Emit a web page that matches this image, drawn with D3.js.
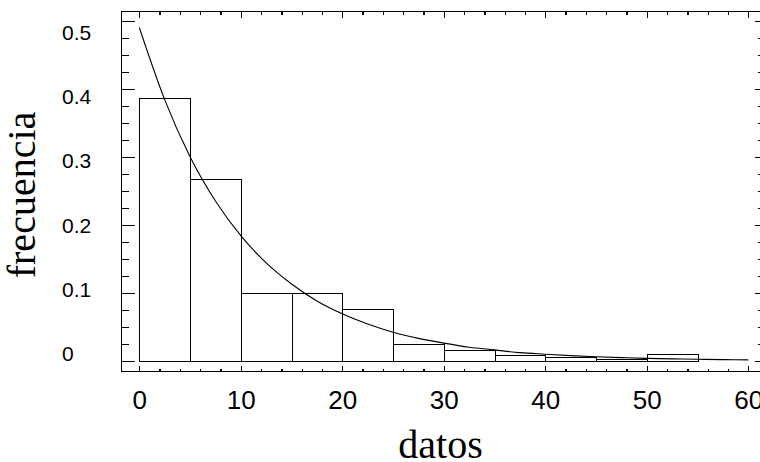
<!DOCTYPE html>
<html>
<head>
<meta charset="utf-8">
<script src="https://cdn.jsdelivr.net/npm/d3@7"></script>
<style>
  body { margin: 0; background: #fff; }
  svg { display: block; }
</style>
</head>
<body>
<div id="chart"></div>
<script>
// histogram bins (edges) and relative frequency of each bin
const binEdges = [0, 5, 10, 15, 20, 25, 30, 35, 40, 45, 50, 55];
const frequencies = [0.387, 0.267, 0.100, 0.100, 0.076, 0.024, 0.016, 0.009, 0.006, 0.003, 0.010];

// fitted curve
const curveX = [0, 2.5, 5, 7.5, 10, 12.5, 15, 17.5, 20, 22.5, 25, 27.5, 30,
                32.5, 35, 37.5, 40, 42.5, 45, 47.5, 50, 52.5, 55, 57.5, 60];
const curveY = [0.490, 0.384, 0.300, 0.235, 0.184, 0.144, 0.113, 0.088, 0.069, 0.054, 0.042, 0.033, 0.026,
                0.020, 0.016, 0.012, 0.0097, 0.0076, 0.0060, 0.0047, 0.0036, 0.0029, 0.0022, 0.0018, 0.0014];

// ticks
const xTicks = [0, 10, 20, 30, 40, 50, 60];
const xMinorTicks = d3.range(0, 61, 2).filter(d => d % 10 !== 0);
const yTicks = [0, 0.1, 0.2, 0.3, 0.4, 0.5];
const yTickLabels = ["0", "0.1", "0.2", "0.3", "0.4", "0.5"];
const yMinorTicks = d3.range(0, 0.5001, 0.025).filter((d, i) => i % 4 !== 0);

function init() {
    const w = 760, h = 462;
    const frame = { left: 121, right: 760, top: 11, bottom: 371 };

    const x = d3.scaleLinear().domain([0, 60]).range([139.3, 748.3]);
    const y = d3.scaleLinear().domain([0, 0.5]).range([360.8, 20.7]);
    // the old renderer put the y labels on a slightly different spacing
    const yLabel = d3.scaleLinear().domain([0, 0.5]).range([361, 40]);

    const svg = d3.select("#chart").append("svg")
        .attr("width", w)
        .attr("height", h)
        .attr("viewBox", [0, 0, w, h]);

    // bars
    svg.append("g")
        .attr("fill", "#fff")
        .attr("stroke", "#000")
        .attr("stroke-width", 1)
        .attr("shape-rendering", "crispEdges")
        .selectAll("rect")
        .data(frequencies)
        .join("rect")
        .attr("x", (d, i) => Math.round(x(binEdges[i])) + 0.5)
        .attr("width", (d, i) => Math.round(x(binEdges[i + 1])) - Math.round(x(binEdges[i])))
        .attr("y", d => Math.round(y(d)) + 0.5)
        .attr("height", d => Math.round(y(0)) - Math.round(y(d)));

    // fitted curve
    const line = d3.line()
        .x((d, i) => x(curveX[i]))
        .y(d => y(d))
        .curve(d3.curveMonotoneX);

    svg.append("path")
        .datum(curveY)
        .attr("fill", "none")
        .attr("stroke", "#000")
        .attr("stroke-width", 1.1)
        .attr("d", line);

    // frame
    svg.append("rect")
        .attr("x", frame.left + 0.5)
        .attr("y", frame.top + 0.5)
        .attr("width", frame.right - frame.left)
        .attr("height", frame.bottom - frame.top)
        .attr("fill", "none")
        .attr("stroke", "#000")
        .attr("stroke-width", 1.3)
        .attr("shape-rendering", "crispEdges");

    const tickAxis = (g, axis) => g.call(axis)
        .call(g => g.select(".domain").remove())
        .call(g => g.selectAll("line").attr("stroke-width", 1.3).attr("shape-rendering", "crispEdges"));

    // bottom and top ticks (pointing inward)
    svg.append("g").attr("transform", `translate(0,${frame.bottom + 0.5})`)
        .call(g => tickAxis(g, d3.axisBottom(x).tickValues(xTicks).tickSize(-6).tickFormat("")));
    svg.append("g").attr("transform", `translate(0,${frame.bottom + 0.5})`)
        .call(g => tickAxis(g, d3.axisBottom(x).tickValues(xMinorTicks).tickSize(-3).tickFormat("")));
    svg.append("g").attr("transform", `translate(0,${frame.top + 0.5})`)
        .call(g => tickAxis(g, d3.axisTop(x).tickValues(xTicks).tickSize(-6).tickFormat("")));
    svg.append("g").attr("transform", `translate(0,${frame.top + 0.5})`)
        .call(g => tickAxis(g, d3.axisTop(x).tickValues(xMinorTicks).tickSize(-3).tickFormat("")));

    // left and right ticks
    svg.append("g").attr("transform", `translate(${frame.left + 0.5},0)`)
        .call(g => tickAxis(g, d3.axisLeft(y).tickValues(yTicks).tickSize(-13).tickFormat("")));
    svg.append("g").attr("transform", `translate(${frame.left + 0.5},0)`)
        .call(g => tickAxis(g, d3.axisLeft(y).tickValues(yMinorTicks).tickSize(-7).tickFormat("")));
    svg.append("g").attr("transform", `translate(${frame.right},0)`)
        .call(g => tickAxis(g, d3.axisRight(y).tickValues(yTicks).tickSize(-5).tickFormat("")));
    svg.append("g").attr("transform", `translate(${frame.right},0)`)
        .call(g => tickAxis(g, d3.axisRight(y).tickValues(yMinorTicks).tickSize(-2).tickFormat("")));

    // x tick labels
    svg.append("g")
        .attr("transform", `translate(0,${frame.bottom})`)
        .call(d3.axisBottom(x).tickValues(xTicks).tickSize(0).tickPadding(20).tickFormat(d3.format("d")))
        .call(g => g.select(".domain").remove())
        .call(g => g.selectAll("text")
            .attr("fill", "#000")
            .style("font-family", "'Liberation Sans', Arial, sans-serif")
            .style("font-size", "26px"));

    // y tick labels
    svg.append("g")
        .selectAll("text")
        .data(yTicks)
        .join("text")
        .attr("x", 62)
        .attr("y", d => yLabel(d))
        .attr("fill", "#000")
        .style("font-family", "'Liberation Sans', Arial, sans-serif")
        .style("font-size", "21px")
        .text((d, i) => yTickLabels[i]);

    // axis titles
    svg.append("text")
        .attr("x", (frame.left + frame.right) / 2)
        .attr("y", 458)
        .attr("text-anchor", "middle")
        .attr("fill", "#000")
        .style("font-family", "'Liberation Serif', 'Times New Roman', serif")
        .style("font-size", "40px")
        .text("datos");

    svg.append("text")
        .attr("transform", "translate(35,195) rotate(-90)")
        .attr("text-anchor", "middle")
        .attr("fill", "#000")
        .style("font-family", "'Liberation Serif', 'Times New Roman', serif")
        .style("font-size", "40px")
        .text("frecuencia");
}

window.onload = init;
</script>
</body>
</html>
